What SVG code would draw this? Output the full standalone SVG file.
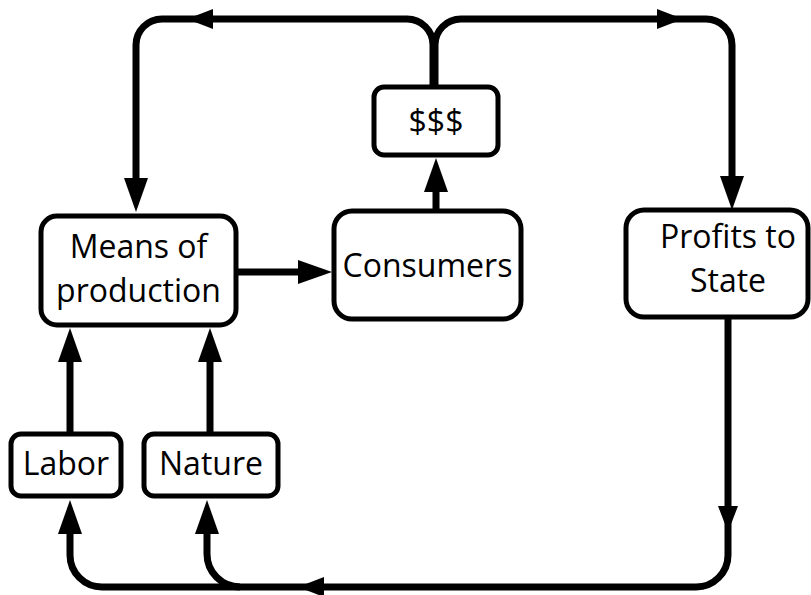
<svg xmlns="http://www.w3.org/2000/svg" width="811" height="595" viewBox="0 0 811 595">
<style>
.box{fill:#fff;stroke:#000;stroke-width:5}
.t{font-family:"Open Sans","Noto Sans",sans-serif;font-size:32px;fill:#000;text-anchor:middle}
.c{fill:none;stroke:#000;stroke-width:7;stroke-linejoin:round}
</style>
<defs>
<path id="big" d="M0,0 L-34,-12 L-34,12 Z" fill="#000"/>
<path id="small" d="M0,0 L-26,-10 L-26,10 Z" fill="#000"/>
</defs>
<rect width="811" height="595" fill="#fff"/>
<g id="connectors">
<path class="c" d="M433,86 V45 A26,26 0 0 0 407,19 H162 A26,26 0 0 0 136,45 V200"/>
<path class="c" d="M435,86 V45 A26,26 0 0 1 461,19 H706 A26,26 0 0 1 732,45 V198"/>
<path class="c" d="M436,210 V170"/>
<path class="c" d="M237,272 H320"/>
<path class="c" d="M70,433 V340"/>
<path class="c" d="M210,433 V340"/>
<path class="c" d="M728,318 V555 A32,32 0 0 1 696,587 H102 A32,32 0 0 1 70,555 V512"/>
<path class="c" d="M240,587 A33,33 0 0 1 207,554 V512"/>
<use href="#small" transform="translate(187,19) rotate(180)"/>
<use href="#big" transform="translate(136,212) rotate(90)"/>
<use href="#small" transform="translate(683,19)"/>
<use href="#big" transform="translate(732,210) rotate(90)"/>
<use href="#big" transform="translate(436,158) rotate(-90)"/>
<use href="#big" transform="translate(332,272)"/>
<use href="#big" transform="translate(70,328) rotate(-90)"/>
<use href="#big" transform="translate(210,328) rotate(-90)"/>
<use href="#small" transform="translate(728,532) rotate(90)"/>
<use href="#small" transform="translate(298,587) rotate(180)"/>
<use href="#big" transform="translate(70,500) rotate(-90)"/>
<use href="#big" transform="translate(207,500) rotate(-90)"/>
</g>
<g id="sss"><rect class="box" x="374" y="87" width="124" height="68" rx="10"/><text class="t" x="436" y="133">$$$</text></g>
<g id="means"><rect class="box" x="41" y="216" width="195" height="109" rx="16"/><text class="t" x="138.5" y="258">Means of</text><text class="t" x="138.5" y="302">production</text></g>
<g id="consumers"><rect class="box" x="334" y="211" width="187" height="108" rx="18"/><text class="t" x="427.5" y="277">Consumers</text></g>
<g id="profits"><rect class="box" x="626" y="210" width="182" height="107" rx="18"/><text class="t" x="728" y="248">Profits to</text><text class="t" x="728" y="292">State</text></g>
<g id="labor"><rect class="box" x="11" y="434" width="110" height="62" rx="10"/><text class="t" x="66" y="475">Labor</text></g>
<g id="nature"><rect class="box" x="144" y="434" width="134" height="62" rx="10"/><text class="t" x="211" y="475">Nature</text></g>
</svg>
